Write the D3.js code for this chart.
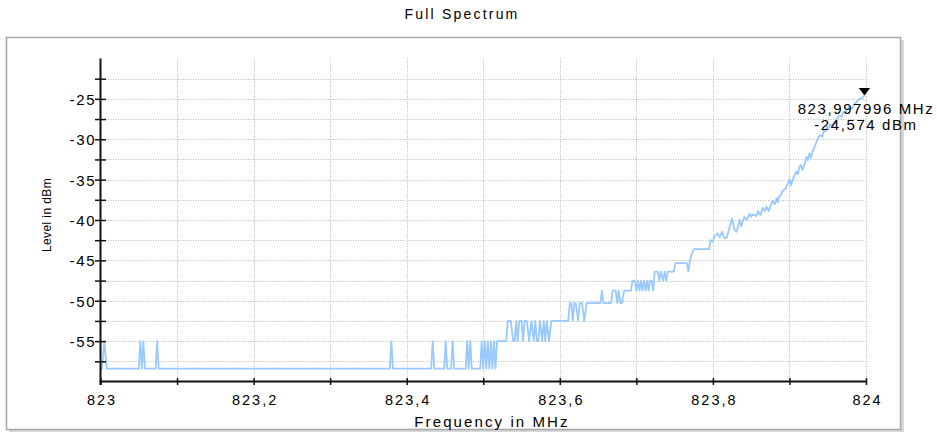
<!DOCTYPE html>
<html><head><meta charset="utf-8">
<script src="https://cdn.jsdelivr.net/npm/d3@7"></script>
<style>
body{margin:0;background:#fff}
text{font-family:"Liberation Sans",Arial,sans-serif;fill:#000}
</style>
</head><body>
<svg id="chart" width="937" height="432"></svg>
<script>
const chartTitle = "Full Spectrum";
const xTitle = "Frequency in MHz";
const yTitle = "Level in dBm";
const xDomain = [823, 824];
const yDomain = [-60, -20];
const xTickValues = [823, 823.1, 823.2, 823.3, 823.4, 823.5, 823.6, 823.7, 823.8, 823.9, 824];
const xTickLabels = ["823", "", "823,2", "", "823,4", "", "823,6", "", "823,8", "", "824"];
const yTickValues = [-57.5, -55, -52.5, -50, -47.5, -45, -42.5, -40, -37.5, -35, -32.5, -30, -27.5, -25, -22.5];
const yTickLabels = ["", "-55", "", "-50", "", "-45", "", "-40", "", "-35", "", "-30", "", "-25", ""];

const freqMHz = [
823.000,823.002,823.005,823.008,823.050,823.052,823.054,823.056,823.058,823.072,823.074,823.076,
823.378,823.380,823.382,823.432,823.434,823.436,823.449,823.451,823.453,823.458,823.460,823.462,
823.477,823.479,823.481,823.483,823.485,823.496,823.498,823.500,823.502,823.504,823.506,823.508,
823.510,823.512,823.514,823.516,823.518,823.530,823.532,823.536,823.539,823.541,823.543,823.545,
823.547,823.550,823.552,823.554,823.557,823.560,823.563,823.566,823.568,823.570,823.572,823.574,
823.577,823.579,823.581,823.583,823.586,823.589,823.611,823.613,823.615,823.617,823.619,823.621,
823.624,823.626,823.629,823.632,823.635,823.653,823.655,823.657,823.667,823.669,823.673,823.675,
823.677,823.679,823.681,823.684,823.693,823.695,823.698,823.700,823.702,823.704,823.706,823.708,
823.710,823.712,823.714,823.716,823.718,823.720,823.722,823.724,823.728,823.730,823.732,823.735,
823.737,823.739,823.741,823.749,823.751,823.766,823.768,823.770,823.772,823.775,823.795,823.797,
823.800,823.802,823.806,823.809,823.812,823.815,823.818,823.822,823.825,823.828,823.831,823.835,
823.837,823.841,823.844,823.848,823.850,823.852,823.857,823.859,823.862,823.865,823.868,823.870,
823.873,823.876,823.878,823.881,823.883,823.885,823.886,823.889,823.891,823.895,823.898,823.900,
823.902,823.904,823.907,823.909,823.911,823.913,823.915,823.917,823.920,823.922,823.924,823.926,
823.928,823.930,823.933,823.936,823.938,823.940,823.943,823.945,823.947,823.949,823.951,823.953,
823.956,823.958,823.960,823.962,823.965,823.968,823.971,823.973,823.976,823.979,823.982,823.985,
823.988,823.991,823.994,823.996,823.997996
];
const levelDBm = [
-58.4,-58.4,-55,-58.4,-58.4,-55,-58.4,-55,-58.4,-58.4,-55,-58.4,
-58.4,-55,-58.4,-58.4,-55,-58.4,-58.4,-55,-58.4,-58.4,-55,-58.4,
-58.4,-55,-58.4,-55,-58.4,-58.4,-55,-58.4,-55,-58.4,-55,-58.4,
-55,-58.4,-55,-58.4,-55,-55,-52.5,-52.5,-55,-55,-52.5,-55,
-52.5,-52.5,-55,-52.5,-52.5,-55,-52.5,-55,-52.5,-55,-55,-52.5,
-55,-52.5,-55,-52.5,-55,-52.5,-52.5,-50.3,-50.3,-52.5,-50.3,-50.3,
-52.5,-50.3,-50.3,-52.5,-50.3,-50.3,-48.75,-50.3,-50.3,-48.75,-48.75,-50.3,
-48.75,-50.3,-50.3,-48.75,-48.75,-47.5,-47.5,-48.75,-47.5,-48.75,-47.5,-48.75,
-47.5,-48.75,-47.5,-48.75,-47.5,-47.5,-48.75,-46.4,-46.4,-47.5,-46.4,-47.5,
-46.4,-47.5,-46.4,-46.4,-45.35,-45.35,-46.4,-45.0,-44.3,-43.6,-43.6,-42.5,
-42.7,-42.0,-41.65,-42.15,-41.45,-42.27,-42.2,-40.8,-39.8,-41.2,-41.45,-40.0,
-40.8,-39.6,-40.0,-39.2,-39.6,-39.3,-39.5,-38.9,-39.4,-38.5,-38.9,-38.35,
-38.9,-38.1,-37.6,-38.05,-37.3,-37.8,-37.1,-36.9,-36.4,-36.1,-35.45,-34.95,
-35.7,-35.05,-34.4,-34.0,-34.35,-33.4,-33.2,-33.8,-33.0,-32.2,-32.6,-31.75,
-32.3,-31.55,-30.9,-30.2,-29.7,-29.5,-29.7,-28.85,-29.05,-28.45,-28.65,-28.15,
-28.45,-27.9,-28.0,-27.4,-27.1,-27.2,-26.6,-26.65,-26.2,-26.0,-26.2,-25.6,
-25.4,-25.0,-24.9,-24.8,-24.574
];
const markerFreq = 823.997996;
const markerLevel = -24.574;
const markerLabels = ["823,997996 MHz", "-24,574 dBm"];

const svg = d3.select("#chart");
const x = d3.scaleLinear().domain(xDomain).range([100.5, 866]);
const y = d3.scaleLinear().domain(yDomain).range([381.5, 58.5]);

// frame with shadow
svg.append("rect").attr("x", 9).attr("y", 40).attr("width", 895).attr("height", 394).attr("fill", "#d8d8d8");
svg.append("rect").attr("x", 6.5).attr("y", 37.5).attr("width", 894).attr("height", 392)
  .attr("fill", "#fff").attr("stroke", "#a6a6a6").attr("stroke-width", 1.5);

// title
svg.append("text").attr("x", 462).attr("y", 19).attr("text-anchor", "middle")
  .style("font-size", "14px").style("letter-spacing", "2.2px").text(chartTitle);

// grid
const grid = svg.append("g").attr("stroke", "#b8b8b8").attr("stroke-width", 1).attr("stroke-dasharray", "1,1.5");
grid.selectAll("line.h").data(yTickValues).join("line").attr("class", "h")
  .attr("x1", x(xDomain[0])).attr("x2", x(xDomain[1]))
  .attr("y1", d => Math.round(y(d)) + 0.5).attr("y2", d => Math.round(y(d)) + 0.5);
grid.selectAll("line.v").data(xTickValues.slice(1)).join("line").attr("class", "v")
  .attr("y1", y(yDomain[1])).attr("y2", y(yDomain[0]))
  .attr("x1", d => Math.round(x(d)) + 0.5).attr("x2", d => Math.round(x(d)) + 0.5);

// series line
svg.append("path").datum(freqMHz.map((f, i) => [f, levelDBm[i]]))
  .attr("fill", "none").attr("stroke", "#99c9ff").attr("stroke-width", 1.8)
  .attr("stroke-linejoin", "round")
  .attr("d", d3.line().x(d => x(d[0])).y(d => y(d[1])));

// y axis
const yAxis = svg.append("g").attr("transform", `translate(${x(xDomain[0])},0)`)
  .call(d3.axisLeft(y).tickValues(yTickValues).tickSizeOuter(0).tickSize(5)
    .tickFormat((d, i) => yTickLabels[i]));
yAxis.select(".domain").remove();
yAxis.selectAll(".tick line").attr("x1", -5.5).attr("x2", 5.5).attr("stroke", "#111").attr("stroke-width", 1.5);
yAxis.selectAll(".tick text").attr("x", -4).attr("dy", "0.36em")
  .style("font-size", "15px").style("letter-spacing", "1.8px").attr("font-family", null);
yAxis.append("line").attr("x1", 0).attr("x2", 0).attr("y1", y(yDomain[1])).attr("y2", y(yDomain[0]) + 3.5)
  .attr("stroke", "#111").attr("stroke-width", 2);

// x axis
const xAxis = svg.append("g").attr("transform", `translate(0,${y(yDomain[0])})`)
  .call(d3.axisBottom(x).tickValues(xTickValues).tickSizeOuter(0).tickSize(4)
    .tickFormat((d, i) => xTickLabels[i]));
xAxis.select(".domain").remove();
xAxis.selectAll(".tick line").attr("y1", -3.5).attr("y2", 3.5).attr("stroke", "#111").attr("stroke-width", 1.5);
xAxis.selectAll(".tick text").attr("y", 23).attr("dy", 0).attr("dx", 1)
  .style("font-size", "14.5px").style("letter-spacing", "2px").attr("font-family", null);
xAxis.append("line").attr("x1", x(xDomain[0]) - 1).attr("x2", x(xDomain[1])).attr("y1", 0).attr("y2", 0)
  .attr("stroke", "#111").attr("stroke-width", 2);

// axis titles
svg.append("text").attr("x", 492).attr("y", 427).attr("text-anchor", "middle")
  .style("font-size", "15px").style("letter-spacing", "2.1px").text(xTitle);
svg.append("text").attr("transform", "translate(51,215) rotate(-90)").attr("text-anchor", "middle")
  .style("font-size", "12px").style("letter-spacing", "0.4px").text(yTitle);

// marker
const mx = x(markerFreq), my = y(markerLevel);
svg.append("path").attr("d", `M${mx - 5.7},${my - 7.5}L${mx + 5.7},${my - 7.5}L${mx},${my}Z`).attr("fill", "#000");
svg.selectAll("text.mk").data(markerLabels).join("text").attr("class", "mk")
  .attr("x", mx + 1.5).attr("y", (d, i) => 113.5 + i * 16.3).attr("text-anchor", "middle")
  .style("font-size", "15px").style("letter-spacing", "1.6px").text(d => d);
</script>
</body></html>
